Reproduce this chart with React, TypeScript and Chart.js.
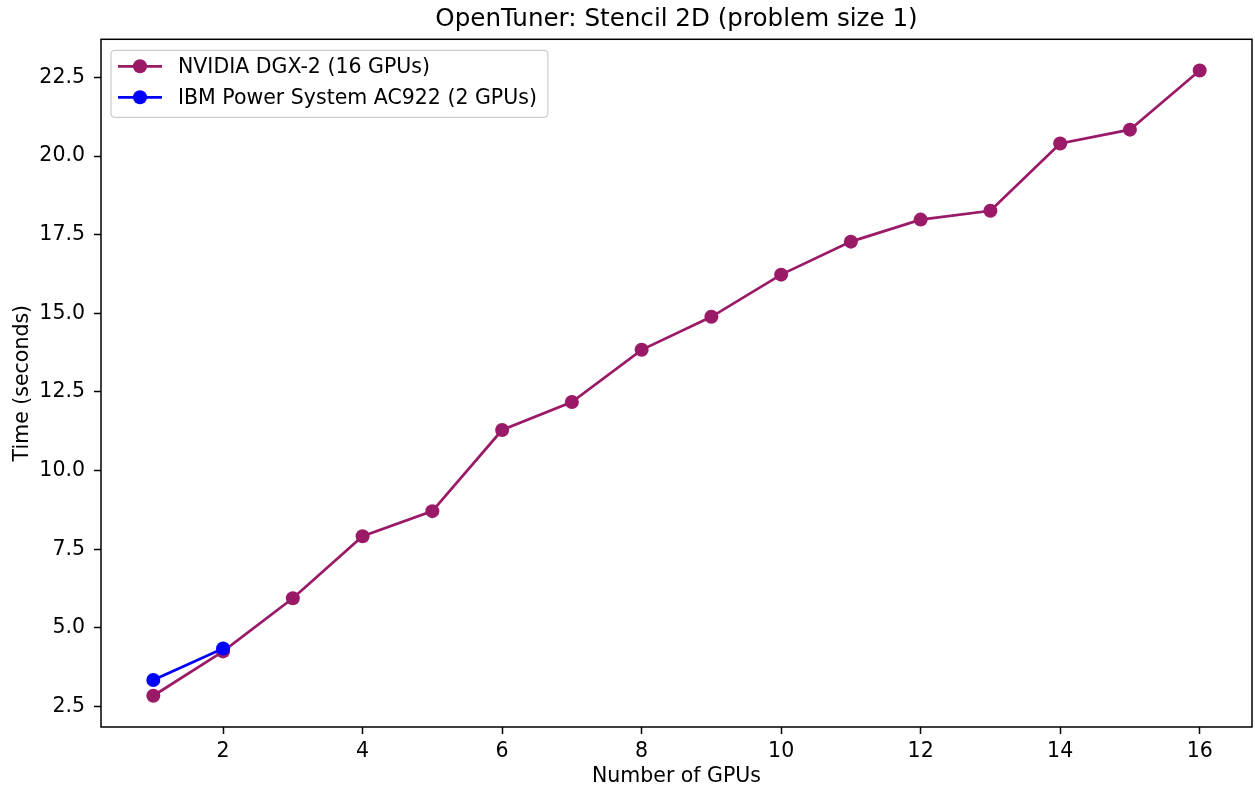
import React, { useEffect, useRef } from "react";
import { Chart, registerables } from "chart.js";

Chart.register(...registerables);

const chartTitle = "OpenTuner: Stencil 2D (problem size 1)";
const xAxisLabel = "Number of GPUs";
const yAxisLabel = "Time (seconds)";

const dgxLabel = "NVIDIA DGX-2 (16 GPUs)";
const dgxGpus = [1, 2, 3, 4, 5, 6, 7, 8, 9, 10, 11, 12, 13, 14, 15, 16];
const dgxTimes = [2.84, 4.25, 5.94, 7.91, 8.71, 11.29, 12.18, 13.84, 14.89, 16.23, 17.28, 17.98, 18.26, 20.4, 20.84, 22.72];

const ibmLabel = "IBM Power System AC922 (2 GPUs)";
const ibmGpus = [1, 2];
const ibmTimes = [3.34, 4.34];

const xTickValues = [2, 4, 6, 8, 10, 12, 14, 16];
const yTickValues = [2.5, 5.0, 7.5, 10.0, 12.5, 15.0, 17.5, 20.0, 22.5];

const dgxColor = "#9a1a68";
const ibmColor = "#0000ff";
const FONT = "'DejaVu Sans', sans-serif";
const LABEL_SIZE = 20.5;
const TITLE_SIZE = 24.6;

function paddedRange(values: number[]) {
  const lo = Math.min(...values);
  const hi = Math.max(...values);
  const m = (hi - lo) * 0.05;
  return [lo - m, hi + m];
}

const framePlugin = {
  id: "frameAndLegend",
  afterDatasetsDraw(chart: any) {
    const ctx = chart.ctx;
    const a = chart.chartArea;
    ctx.save();
    ctx.strokeStyle = "#000";
    ctx.lineWidth = 1.5;
    ctx.strokeRect(a.left, a.top, a.right - a.left, a.bottom - a.top);

    // legend
    ctx.font = LABEL_SIZE + "px " + FONT;
    const ds = chart.data.datasets;
    let maxW = 0;
    ds.forEach((d: any) => {
      maxW = Math.max(maxW, ctx.measureText(d.label).width);
    });
    const bx = a.left + 10;
    const by = a.top + 11;
    const bw = 67 + maxW + 11;
    const bh = 67;
    const r = 4;
    ctx.beginPath();
    ctx.moveTo(bx + r, by);
    ctx.lineTo(bx + bw - r, by);
    ctx.quadraticCurveTo(bx + bw, by, bx + bw, by + r);
    ctx.lineTo(bx + bw, by + bh - r);
    ctx.quadraticCurveTo(bx + bw, by + bh, bx + bw - r, by + bh);
    ctx.lineTo(bx + r, by + bh);
    ctx.quadraticCurveTo(bx, by + bh, bx, by + bh - r);
    ctx.lineTo(bx, by + r);
    ctx.quadraticCurveTo(bx, by, bx + r, by);
    ctx.closePath();
    ctx.fillStyle = "rgba(255,255,255,0.8)";
    ctx.fill();
    ctx.strokeStyle = "#cccccc";
    ctx.lineWidth = 1.2;
    ctx.stroke();

    ds.forEach((d: any, i: number) => {
      const cy = by + 16 + i * 31;
      ctx.strokeStyle = d.borderColor;
      ctx.lineWidth = 2.7;
      ctx.beginPath();
      ctx.moveTo(bx + 7, cy);
      ctx.lineTo(bx + 51, cy);
      ctx.stroke();
      ctx.fillStyle = d.pointBackgroundColor;
      ctx.beginPath();
      ctx.arc(bx + 29, cy, 7, 0, Math.PI * 2);
      ctx.fill();
      ctx.fillStyle = "#000";
      ctx.textAlign = "left";
      ctx.textBaseline = "middle";
      ctx.fillText(d.label, bx + 67, cy + 1);
    });
    ctx.restore();
  },
};

export default function App() {
  const ref = useRef<HTMLCanvasElement | null>(null);

  useEffect(() => {
    document.body.style.margin = "0";
    const canvas = ref.current;
    if (!canvas) return;
    const [xMin, xMax] = paddedRange([...dgxGpus, ...ibmGpus]);
    const [yMin, yMax] = paddedRange([...dgxTimes, ...ibmTimes]);

    const chart = new Chart(canvas, {
      type: "line",
      data: {
        datasets: [
          {
            label: dgxLabel,
            data: dgxGpus.map((g, i) => ({ x: g, y: dgxTimes[i] })),
            borderColor: dgxColor,
            backgroundColor: dgxColor,
            pointBackgroundColor: dgxColor,
            pointBorderColor: dgxColor,
            borderWidth: 2.7,
            pointRadius: 7,
            pointBorderWidth: 0,
            tension: 0,
            order: 1,
          },
          {
            label: ibmLabel,
            data: ibmGpus.map((g, i) => ({ x: g, y: ibmTimes[i] })),
            borderColor: ibmColor,
            backgroundColor: ibmColor,
            pointBackgroundColor: ibmColor,
            pointBorderColor: ibmColor,
            borderWidth: 2.7,
            pointRadius: 7,
            pointBorderWidth: 0,
            tension: 0,
            order: 0,
          },
        ],
      },
      options: {
        responsive: false,
        animation: false,
        layout: { autoPadding: false, padding: { left: 0, right: 3, top: 0, bottom: 0 } },
        plugins: {
          legend: { display: false },
          tooltip: { enabled: false },
          title: {
            display: true,
            text: chartTitle,
            fullSize: false,
            color: "#000",
            font: { family: FONT, size: TITLE_SIZE, weight: "normal", lineHeight: 1.15 },
            padding: { top: 5, bottom: 6 },
          },
        },
        scales: {
          x: {
            type: "linear",
            min: xMin,
            max: xMax,
            afterBuildTicks: (s: any) => {
              s.ticks = xTickValues.map((v) => ({ value: v }));
            },
            afterFit: (s: any) => {
              s.height = 68;
            },
            border: { display: false },
            grid: {
              drawOnChartArea: false,
              drawTicks: true,
              tickLength: 7,
              tickWidth: 1.5,
              tickColor: "#000",
            },
            ticks: {
              color: "#000",
              padding: 5,
              maxRotation: 0,
              autoSkip: false,
              font: { family: FONT, size: LABEL_SIZE },
              callback: (v: any) => String(v),
            },
            title: {
              display: true,
              text: xAxisLabel,
              color: "#000",
              font: { family: FONT, size: LABEL_SIZE },
              padding: { top: 0, bottom: 6 },
            },
          },
          y: {
            type: "linear",
            min: yMin,
            max: yMax,
            afterBuildTicks: (s: any) => {
              s.ticks = yTickValues.map((v) => ({ value: v }));
            },
            afterFit: (s: any) => {
              s.width = 101;
            },
            border: { display: false },
            grid: {
              drawOnChartArea: false,
              drawTicks: true,
              tickLength: 7,
              tickWidth: 1.5,
              tickColor: "#000",
            },
            ticks: {
              color: "#000",
              padding: 9,
              autoSkip: false,
              font: { family: FONT, size: LABEL_SIZE },
              callback: (v: any) => Number(v).toFixed(1),
            },
            title: {
              display: true,
              text: yAxisLabel,
              color: "#000",
              font: { family: FONT, size: LABEL_SIZE },
              padding: { top: 10, bottom: 0 },
            },
          },
        },
      },
      plugins: [framePlugin],
    });
    return () => chart.destroy();
  }, []);

  return (
    <div style={{ width: 1255, height: 795, background: "#fff" }}>
      <canvas ref={ref} width={1255} height={795} style={{ display: "block" }} />
    </div>
  );
}
